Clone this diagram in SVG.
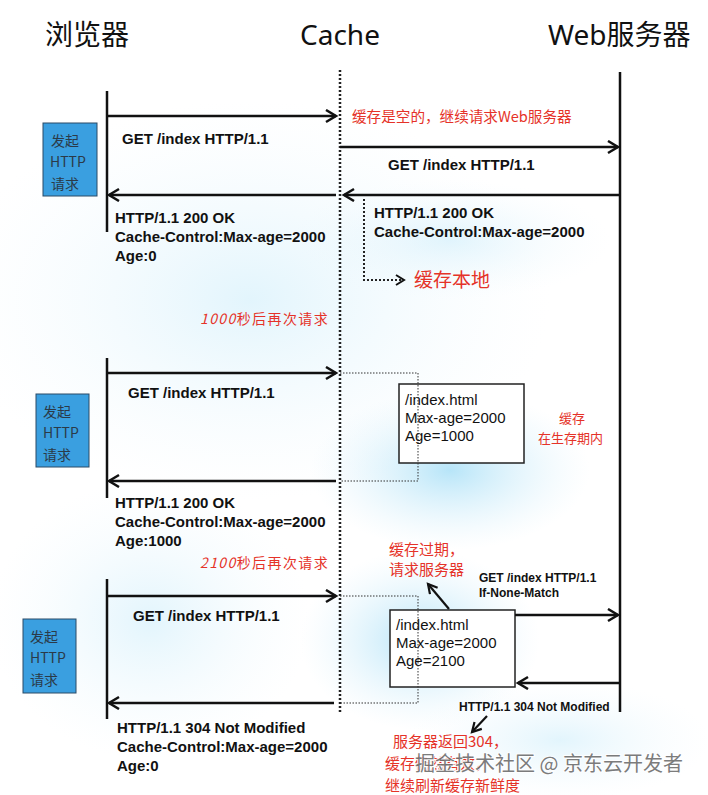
<svg xmlns="http://www.w3.org/2000/svg" width="708" height="795" viewBox="0 0 708 795">
<style>
.ttl{font-family:"Noto Sans","Noto Sans CJK SC",sans-serif;font-size:28px;fill:#111}
.lbl{font-family:"Liberation Sans",Arial,sans-serif;font-weight:bold;font-size:15px;fill:#111}
.sm{font-family:"Liberation Sans",Arial,sans-serif;font-weight:bold;font-size:12px;fill:#111}
.box{font-family:"Liberation Sans",Arial,sans-serif;font-size:15px;fill:#111}
.red{font-family:"Noto Sans CJK SC",sans-serif;font-size:14px;fill:#e53228}
.blue{fill:#3a9fe0;stroke:#2a4a66;stroke-width:1}
.bt{font-family:"Noto Sans CJK SC","Liberation Sans",sans-serif;font-size:14px;fill:#2b3a48}
.ln{stroke:#111;stroke-width:2.5;fill:none}
.arr{stroke:#111;stroke-width:2.5;fill:none;marker-end:url(#ah)}
.dot{stroke:#333;stroke-width:1;fill:none;stroke-dasharray:1.5 1.5}
.cbox{fill:#fff;stroke:#222;stroke-width:1.5}
</style>
<defs>
<marker id="ah" markerUnits="userSpaceOnUse" markerWidth="14" markerHeight="16" refX="11" refY="7" orient="auto">
<path d="M1,1 L11,7 L1,13" fill="none" stroke="#111" stroke-width="2.5"/>
</marker>
<marker id="ahs" markerUnits="userSpaceOnUse" markerWidth="14" markerHeight="14" refX="10" refY="6" orient="auto">
<path d="M1,1 L10,6 L1,11" fill="none" stroke="#111" stroke-width="2.2"/>
</marker>
<radialGradient id="glow">
<stop offset="0" stop-color="#9fdcf6" stop-opacity="0.75"/>
<stop offset="1" stop-color="#d8f0fb" stop-opacity="0"/>
</radialGradient>
<radialGradient id="glow2">
<stop offset="0" stop-color="#cfeefb" stop-opacity="0.6"/>
<stop offset="1" stop-color="#eef8fd" stop-opacity="0"/>
</radialGradient>
</defs>
<rect width="708" height="795" fill="#fff"/>
<g id="background">
<ellipse cx="250" cy="300" rx="300" ry="200" fill="url(#glow2)"/>
<ellipse cx="450" cy="470" rx="140" ry="80" fill="url(#glow)"/>
<ellipse cx="420" cy="640" rx="120" ry="90" fill="url(#glow)"/>
<ellipse cx="560" cy="740" rx="150" ry="60" fill="url(#glow2)"/>
<ellipse cx="150" cy="620" rx="160" ry="140" fill="url(#glow2)"/>
<ellipse cx="450" cy="240" rx="160" ry="60" fill="url(#glow2)"/>
</g>
<g id="titles">
<text class="ttl" x="45" y="45">浏览器</text>
<text class="ttl" x="300" y="45">Cache</text>
<text class="ttl" x="548" y="45">Web服务器</text>
</g>
<g id="lifelines">
<line x1="340" y1="70" x2="340" y2="712" stroke="#222" stroke-width="2.5" stroke-dasharray="2 2"/>
<line class="ln" x1="620" y1="72" x2="620" y2="712"/>
<line class="ln" x1="107" y1="91" x2="107" y2="232"/>
<line class="ln" x1="107" y1="358" x2="107" y2="498"/>
<line class="ln" x1="107" y1="579" x2="107" y2="719"/>
</g>
<g id="req1">
<rect class="blue" x="43" y="123" width="54" height="73"/>
<text class="bt" x="51" y="146">发起</text>
<text class="bt" x="50" y="167">HTTP</text>
<text class="bt" x="51" y="189">请求</text>
</g>
<g id="req2">
<rect class="blue" x="36" y="394" width="53" height="73"/>
<text class="bt" x="43" y="417">发起</text>
<text class="bt" x="43" y="438">HTTP</text>
<text class="bt" x="43" y="460">请求</text>
</g>
<g id="req3">
<rect class="blue" x="23" y="619" width="53" height="74"/>
<text class="bt" x="30" y="642">发起</text>
<text class="bt" x="30" y="663">HTTP</text>
<text class="bt" x="30" y="685">请求</text>
</g>
<g id="cache2">
<rect class="cbox" x="399" y="384" width="125" height="79"/>
<text class="box" x="405" y="405">/index.html</text>
<text class="box" x="405" y="423">Max-age=2000</text>
<text class="box" x="405" y="441">Age=1000</text>
</g>
<g id="cache3">
<rect class="cbox" x="390" y="610" width="125" height="77"/>
<text class="box" x="396" y="630">/index.html</text>
<text class="box" x="396" y="648">Max-age=2000</text>
<text class="box" x="396" y="666">Age=2100</text>
</g>
<g id="connectors">
<line class="arr" x1="108" y1="116" x2="336" y2="116"/>
<line class="arr" x1="340" y1="147" x2="618" y2="147"/>
<line class="arr" x1="619" y1="195" x2="344" y2="195"/>
<line class="arr" x1="336" y1="195" x2="109" y2="195"/>
<path d="M364,199 V280 H402" fill="none" stroke="#222" stroke-width="2" stroke-dasharray="2 2"/>
<path d="M396,275 L404,280 L396,285" fill="none" stroke="#111" stroke-width="2"/>
<line class="arr" x1="108" y1="373" x2="336" y2="373"/>
<path class="dot" d="M340,373 H418 V481 H340"/>
<line class="arr" x1="336" y1="481" x2="109" y2="481"/>
<line class="arr" x1="108" y1="596" x2="336" y2="596"/>
<path class="dot" d="M340,596 H418 V703 H340"/>
<line class="arr" x1="515" y1="615" x2="618" y2="615"/>
<line class="arr" x1="619" y1="683" x2="518" y2="683"/>
<line class="arr" x1="334" y1="703" x2="109" y2="703"/>
<line x1="449" y1="609" x2="428" y2="584" stroke="#111" stroke-width="2.2" marker-end="url(#ahs)"/>
<line x1="487" y1="716" x2="472" y2="732" stroke="#111" stroke-width="2.2" marker-end="url(#ahs)"/>
</g>
<g id="labels">
<text class="lbl" x="122" y="144">GET /index HTTP/1.1</text>
<text class="red" x="352" y="122" style="font-size:14.6px">缓存是空的，继续请求Web服务器</text>
<text class="lbl" x="388" y="170">GET /index HTTP/1.1</text>
<text class="lbl" x="115" y="223">HTTP/1.1 200 OK</text>
<text class="lbl" x="115" y="242">Cache-Control:Max-age=2000</text>
<text class="lbl" x="115" y="261">Age:0</text>
<text class="lbl" x="374" y="218">HTTP/1.1 200 OK</text>
<text class="lbl" x="374" y="237">Cache-Control:Max-age=2000</text>
<text class="red" x="414" y="287" style="font-size:19px">缓存本地</text>
<text class="red" x="200" y="324" style="letter-spacing:1.4px"><tspan font-style="italic">1000</tspan>秒后再次请求</text>
<text class="lbl" x="128" y="398">GET /index HTTP/1.1</text>
<text class="red" x="559" y="423" style="font-size:13px">缓存</text>
<text class="red" x="538" y="443" style="font-size:13px">在生存期内</text>
<text class="lbl" x="115" y="508">HTTP/1.1 200 OK</text>
<text class="lbl" x="115" y="527">Cache-Control:Max-age=2000</text>
<text class="lbl" x="115" y="546">Age:1000</text>
<text class="red" x="200" y="568" style="letter-spacing:1.4px"><tspan font-style="italic">2100</tspan>秒后再次请求</text>
<text class="red" x="389" y="555" style="font-size:15px">缓存过期，</text>
<text class="red" x="389" y="575" style="font-size:15px">请求服务器</text>
<text class="sm" x="479" y="582">GET /index HTTP/1.1</text>
<text class="sm" x="479" y="597">If-None-Match</text>
<text class="lbl" x="133" y="621">GET /index HTTP/1.1</text>
<text class="sm" x="459" y="711">HTTP/1.1 304 Not Modified</text>
<text class="lbl" x="117" y="733">HTTP/1.1 304 Not Modified</text>
<text class="lbl" x="117" y="752">Cache-Control:Max-age=2000</text>
<text class="lbl" x="117" y="771">Age:0</text>
<text class="red" x="393" y="747" style="font-size:15px">服务器返回304，</text>
<text class="red" x="385" y="769" style="font-size:15px">缓存仍然有效，</text>
<text class="red" x="385" y="791" style="font-size:15px">继续刷新缓存新鲜度</text>
</g>
<g id="watermark">
<text x="415" y="771" style="font-family:'Noto Sans CJK SC',sans-serif;font-size:20px;fill:#6e6e6e;stroke:#fff;stroke-width:2;paint-order:stroke;opacity:0.9">掘金技术社区 @ 京东云开发者</text>
</g>
</svg>
